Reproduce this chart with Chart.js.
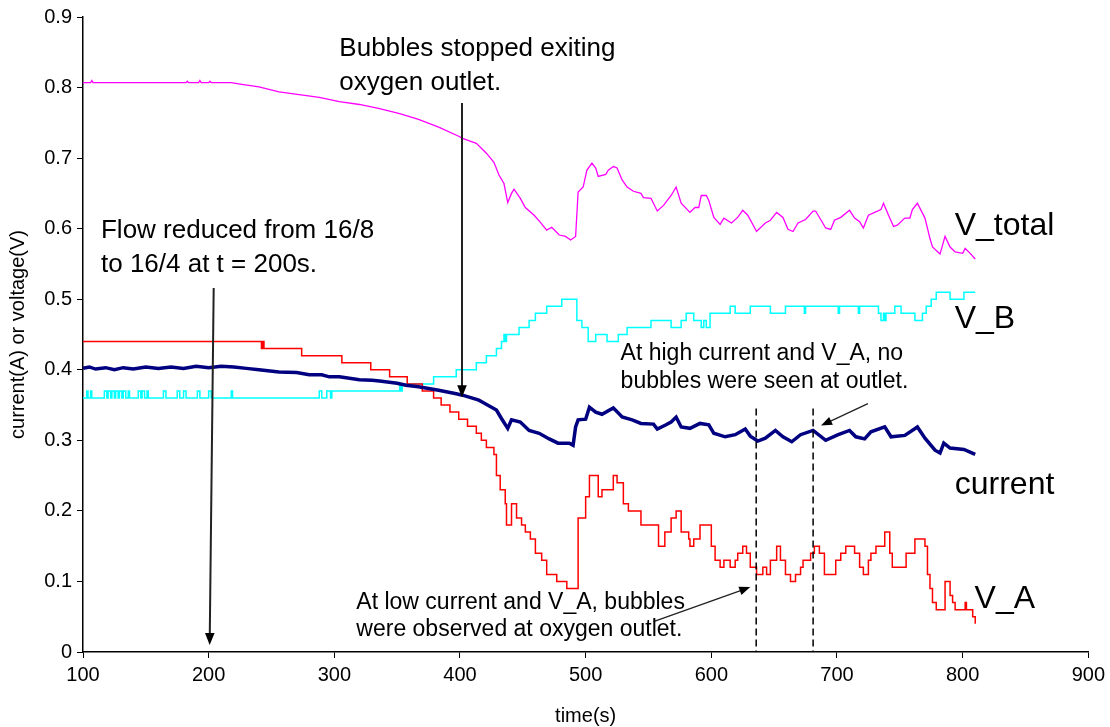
<!DOCTYPE html>
<html>
<head>
<meta charset="utf-8">
<script src="https://cdn.jsdelivr.net/npm/chart.js@4.4.1/dist/chart.umd.min.js"></script>
<style>
  body { margin: 0; background: #fff; }
  canvas { display: block; }
</style>
</head>
<body>
<canvas id="fuelCellChart" width="1110" height="727"></canvas>
<script>
/*
SERIES DATA (time in s, value in A or V)
*/
const totalTime = [100, 106, 107, 108, 182, 183, 184, 192, 193, 194, 200, 201, 202, 218, 225, 240, 256, 272, 288, 304, 320, 336, 352, 367, 383, 399, 402, 413, 421, 427, 431, 435, 438, 441, 443, 448, 452, 459, 464, 469, 473, 479, 484, 488, 492, 494, 498, 501, 505, 508, 510, 516, 518, 522, 525, 529, 533, 538, 544, 546, 552, 557, 562, 568, 572, 576, 583, 587, 590, 592, 596, 598, 602, 607, 610, 616, 621, 625, 629, 636, 643, 647, 652, 657, 661, 665, 669, 675, 681, 683, 691, 695, 698, 703, 710, 714, 718, 721, 725, 730, 735, 737, 741, 745, 748, 754, 758, 760, 764, 770, 774, 776, 782, 786, 790, 794, 800, 802, 806, 810];
const totalVolt = [0.807, 0.807, 0.810, 0.807, 0.807, 0.809, 0.807, 0.807, 0.810, 0.807, 0.807, 0.809, 0.807, 0.807, 0.805, 0.801, 0.794, 0.790, 0.786, 0.780, 0.776, 0.770, 0.763, 0.755, 0.744, 0.731, 0.728, 0.721, 0.707, 0.694, 0.676, 0.664, 0.637, 0.650, 0.656, 0.643, 0.630, 0.619, 0.609, 0.598, 0.602, 0.591, 0.589, 0.584, 0.589, 0.652, 0.659, 0.683, 0.693, 0.686, 0.674, 0.677, 0.683, 0.688, 0.686, 0.669, 0.659, 0.653, 0.650, 0.644, 0.643, 0.625, 0.633, 0.647, 0.659, 0.636, 0.623, 0.630, 0.630, 0.647, 0.647, 0.640, 0.616, 0.606, 0.615, 0.608, 0.616, 0.626, 0.619, 0.596, 0.608, 0.612, 0.623, 0.616, 0.599, 0.596, 0.608, 0.613, 0.625, 0.625, 0.601, 0.599, 0.612, 0.616, 0.626, 0.615, 0.610, 0.601, 0.619, 0.623, 0.627, 0.636, 0.619, 0.603, 0.605, 0.615, 0.615, 0.627, 0.636, 0.615, 0.586, 0.574, 0.564, 0.589, 0.574, 0.567, 0.565, 0.572, 0.565, 0.557];

// V_B is a stepped signal: each time is where a new level starts
const bTime = [100, 103, 104, 106, 107, 117, 119, 120, 122, 123, 125, 126, 128, 129, 131, 132, 134, 136, 137, 144, 146, 147, 149, 151, 152, 164, 166, 175, 177, 180, 182, 191, 193, 200, 202, 218, 219, 288, 290, 294, 297, 298, 352, 353, 354, 379, 397, 413, 421, 429, 433, 435, 436, 437, 447, 455, 460, 469, 481, 493, 497, 502, 508, 517, 526, 533, 552, 568, 576, 580, 586, 592, 594, 596, 599, 615, 619, 631, 647, 659, 674, 675, 689, 701, 702, 717, 718, 723, 733, 735, 737, 738, 739, 746, 751, 762, 768, 771, 775, 779, 790, 801, 802, 810];
const bVolt = [0.36, 0.37, 0.36, 0.37, 0.36, 0.37, 0.36, 0.37, 0.36, 0.37, 0.36, 0.37, 0.36, 0.37, 0.36, 0.37, 0.36, 0.37, 0.36, 0.37, 0.36, 0.37, 0.36, 0.37, 0.36, 0.37, 0.36, 0.37, 0.36, 0.37, 0.36, 0.37, 0.36, 0.37, 0.36, 0.37, 0.36, 0.37, 0.36, 0.37, 0.36, 0.37, 0.38, 0.37, 0.38, 0.39, 0.40, 0.41, 0.42, 0.43, 0.44, 0.45, 0.44, 0.45, 0.46, 0.47, 0.48, 0.49, 0.50, 0.47, 0.46, 0.44, 0.45, 0.44, 0.45, 0.46, 0.47, 0.46, 0.47, 0.48, 0.47, 0.46, 0.47, 0.46, 0.48, 0.49, 0.48, 0.49, 0.48, 0.49, 0.48, 0.49, 0.49, 0.48, 0.49, 0.48, 0.49, 0.49, 0.48, 0.47, 0.48, 0.47, 0.48, 0.49, 0.48, 0.47, 0.48, 0.49, 0.50, 0.51, 0.50, 0.51, 0.51, 0.51];

const currentTime = [100, 105, 110, 118, 125, 132, 140, 150, 160, 170, 180, 190, 200, 210, 220, 230, 240, 256, 270, 280, 290, 296, 304, 320, 330, 336, 350, 357, 367, 383, 397, 402, 415, 418, 429, 433, 438, 441, 448, 455, 463, 471, 478, 487, 490, 492, 494, 500, 503, 508, 513, 522, 529, 537, 544, 554, 557, 564, 568, 572, 576, 583, 591, 598, 602, 611, 619, 627, 631, 637, 643, 651, 657, 664, 671, 681, 691, 701, 710, 715, 722, 727, 738, 743, 754, 764, 770, 778, 782, 785, 790, 801, 810];
const currentAmp = [0.402, 0.404, 0.401, 0.403, 0.400, 0.403, 0.401, 0.404, 0.402, 0.404, 0.402, 0.405, 0.403, 0.405, 0.404, 0.402, 0.400, 0.397, 0.396, 0.393, 0.393, 0.390, 0.390, 0.386, 0.385, 0.384, 0.381, 0.378, 0.376, 0.371, 0.366, 0.364, 0.357, 0.354, 0.343, 0.331, 0.317, 0.329, 0.326, 0.314, 0.310, 0.302, 0.296, 0.296, 0.293, 0.319, 0.329, 0.330, 0.347, 0.340, 0.337, 0.346, 0.333, 0.329, 0.324, 0.323, 0.316, 0.322, 0.326, 0.333, 0.319, 0.317, 0.324, 0.322, 0.310, 0.305, 0.308, 0.316, 0.306, 0.299, 0.303, 0.314, 0.305, 0.298, 0.308, 0.314, 0.300, 0.308, 0.314, 0.305, 0.302, 0.312, 0.319, 0.305, 0.307, 0.319, 0.303, 0.286, 0.282, 0.296, 0.289, 0.287, 0.280];

// V_A is stepped too
const aTime = [100, 242, 243, 244, 274, 306, 329, 344, 358, 370, 379, 385, 392, 399, 406, 413, 417, 421, 427, 429, 432, 436, 437, 441, 445, 449, 452, 456, 460, 465, 469, 477, 480, 485, 494, 497, 500, 503, 510, 513, 522, 525, 530, 534, 536, 544, 558, 563, 568, 572, 576, 582, 583, 586, 591, 600, 603, 607, 610, 615, 619, 621, 625, 628, 631, 636, 641, 644, 647, 652, 655, 659, 663, 667, 671, 673, 679, 682, 686, 690, 699, 703, 707, 714, 718, 721, 725, 727, 731, 738, 742, 744, 755, 762, 770, 772, 774, 776, 779, 786, 790, 792, 794, 802, 803, 808, 810];
const aVolt = [0.44, 0.43, 0.44, 0.43, 0.42, 0.41, 0.40, 0.39, 0.38, 0.37, 0.36, 0.35, 0.34, 0.33, 0.32, 0.31, 0.30, 0.29, 0.28, 0.25, 0.23, 0.21, 0.18, 0.21, 0.19, 0.18, 0.17, 0.16, 0.14, 0.13, 0.11, 0.10, 0.10, 0.09, 0.19, 0.19, 0.22, 0.25, 0.22, 0.23, 0.25, 0.24, 0.21, 0.20, 0.20, 0.18, 0.15, 0.17, 0.19, 0.20, 0.17, 0.16, 0.15, 0.16, 0.18, 0.15, 0.13, 0.12, 0.13, 0.12, 0.13, 0.14, 0.15, 0.14, 0.12, 0.11, 0.12, 0.11, 0.13, 0.15, 0.13, 0.11, 0.10, 0.11, 0.12, 0.13, 0.14, 0.15, 0.14, 0.11, 0.13, 0.14, 0.15, 0.14, 0.12, 0.11, 0.13, 0.14, 0.15, 0.17, 0.14, 0.12, 0.14, 0.16, 0.15, 0.11, 0.09, 0.07, 0.06, 0.10, 0.08, 0.07, 0.06, 0.07, 0.06, 0.05, 0.04];

/*
ANNOTATIONS (data coordinates)
*/
const seriesLabels = [
  { text: 'V_total', x: 793.7, y: 0.604 },
  { text: 'V_B', x: 793.7, y: 0.472 },
  { text: 'current', x: 793.7, y: 0.237 },
  { text: 'V_A', x: 809.5, y: 0.075 }
];
const noteTexts = [
  { lines: ['Bubbles stopped exiting', 'oxygen outlet.'], x: 304, y: 0.855, size: 26, gap: 1.3 },
  { lines: ['Flow reduced from 16/8', 'to 16/4 at t = 200s.'], x: 114.3, y: 0.597, size: 26, gap: 1.3 },
  { lines: ['At high current and V_A, no', 'bubbles were seen at outlet.'], x: 527.8, y: 0.423, size: 23, gap: 1.22 },
  { lines: ['At low current and V_A, bubbles', 'were observed at oxygen outlet.'], x: 317.5, y: 0.070, size: 23, gap: 1.18 }
];
const arrows = [
  { from: [401.6, 0.778], to: [401.6, 0.361], width: 2, head: 12 },
  { from: [204, 0.516], to: [200.8, 0.010], width: 2, head: 12 },
  { from: [724.6, 0.352], to: [687.3, 0.321], width: 1.3, head: 11 },
  { from: [554, 0.043], to: [631, 0.092], width: 1.3, head: 11 }
];
const dashedTimes = [635.7, 681];

function toPoints(xs, ys) {
  return xs.map((x, i) => ({ x: x, y: ys[i] }));
}

const FONT = "'Liberation Sans', Arial, sans-serif";

const notesPlugin = {
  id: 'notes',
  afterDatasetsDraw(chart) {
    const ctx = chart.ctx;
    const xs = chart.scales.x;
    const ys = chart.scales.y;
    ctx.save();

    // dashed markers
    ctx.strokeStyle = '#000';
    ctx.lineWidth = 1.5;
    ctx.setLineDash([7, 4]);
    for (const t of dashedTimes) {
      ctx.beginPath();
      ctx.moveTo(xs.getPixelForValue(t), ys.getPixelForValue(0.345));
      ctx.lineTo(xs.getPixelForValue(t), ys.getPixelForValue(0));
      ctx.stroke();
    }
    ctx.setLineDash([]);

    // arrows
    for (const a of arrows) {
      const x1 = xs.getPixelForValue(a.from[0]), y1 = ys.getPixelForValue(a.from[1]);
      const x2 = xs.getPixelForValue(a.to[0]), y2 = ys.getPixelForValue(a.to[1]);
      const ang = Math.atan2(y2 - y1, x2 - x1);
      ctx.strokeStyle = '#222';
      ctx.fillStyle = '#000';
      ctx.lineWidth = a.width;
      ctx.beginPath();
      ctx.moveTo(x1, y1);
      ctx.lineTo(x2 - Math.cos(ang) * a.head * 0.8, y2 - Math.sin(ang) * a.head * 0.8);
      ctx.stroke();
      ctx.beginPath();
      ctx.moveTo(x2, y2);
      ctx.lineTo(x2 - a.head * Math.cos(ang) + a.head * 0.4 * Math.sin(ang), y2 - a.head * Math.sin(ang) - a.head * 0.4 * Math.cos(ang));
      ctx.lineTo(x2 - a.head * Math.cos(ang) - a.head * 0.4 * Math.sin(ang), y2 - a.head * Math.sin(ang) + a.head * 0.4 * Math.cos(ang));
      ctx.closePath();
      ctx.fill();
    }

    // text
    ctx.fillStyle = '#000';
    ctx.textAlign = 'left';
    ctx.textBaseline = 'middle';
    for (const n of noteTexts) {
      ctx.font = n.size + 'px ' + FONT;
      const x = xs.getPixelForValue(n.x);
      const y = ys.getPixelForValue(n.y);
      n.lines.forEach((line, i) => ctx.fillText(line, x, y + i * n.size * n.gap));
    }
    ctx.font = '32px ' + FONT;
    for (const s of seriesLabels) {
      ctx.fillText(s.text, xs.getPixelForValue(s.x), ys.getPixelForValue(s.y));
    }
    ctx.restore();
  }
};

const fuelCellConfig = {
  type: 'scatter',
  data: {
    datasets: [{
      label: 'current',
      data: toPoints(currentTime, currentAmp),
      borderColor: '#000080',
      borderWidth: 3.5,
      showLine: true
    }, {
      label: 'V_A',
      data: toPoints(aTime, aVolt),
      borderColor: '#ff0000',
      borderWidth: 1.5,
      stepped: 'before',
      showLine: true
    }, {
      label: 'V_B',
      data: toPoints(bTime, bVolt),
      borderColor: '#00ffff',
      borderWidth: 1.5,
      stepped: 'before',
      showLine: true
    }, {
      label: 'V_total',
      data: toPoints(totalTime, totalVolt),
      borderColor: '#ff00ff',
      borderWidth: 1.3,
      showLine: true
    }]
  },
  options: {
    responsive: false,
    animation: false,
    layout: { padding: { top: 17, right: 20, left: 0, bottom: 0 } },
    elements: { point: { radius: 0 }, line: { tension: 0 } },
    plugins: { legend: { display: false }, tooltip: { enabled: false } },
    scales: {
      x: {
        type: 'linear',
        min: 100,
        max: 900,
        ticks: { stepSize: 100, color: '#000', padding: 5, font: { family: FONT, size: 20 } },
        grid: { drawOnChartArea: false, color: '#000', tickLength: 6 },
        border: { color: '#000', width: 1.5 },
        title: { display: true, text: 'time(s)', color: '#000', padding: { top: 0, bottom: 0 }, font: { family: FONT, size: 20, lineHeight: 1.1 } },
        afterFit(scale) { scale.height = 75; }
      },
      y: {
        min: 0,
        max: 0.9,
        ticks: { stepSize: 0.1, color: '#000', padding: 5, font: { family: FONT, size: 20 },
                 callback: v => +v.toFixed(1) },
        grid: { drawOnChartArea: false, color: '#000', tickLength: 6 },
        border: { color: '#000', width: 1.5 },
        title: { display: true, text: 'current(A) or voltage(V)', color: '#000', padding: { top: 6, bottom: 0 }, font: { family: FONT, size: 20 } },
        afterFit(scale) { scale.width = 83; }
      }
    }
  },
  plugins: [notesPlugin]
};

const fuelCellChart = new Chart(
  document.getElementById('fuelCellChart'),
  fuelCellConfig
);
</script>
</body>
</html>
